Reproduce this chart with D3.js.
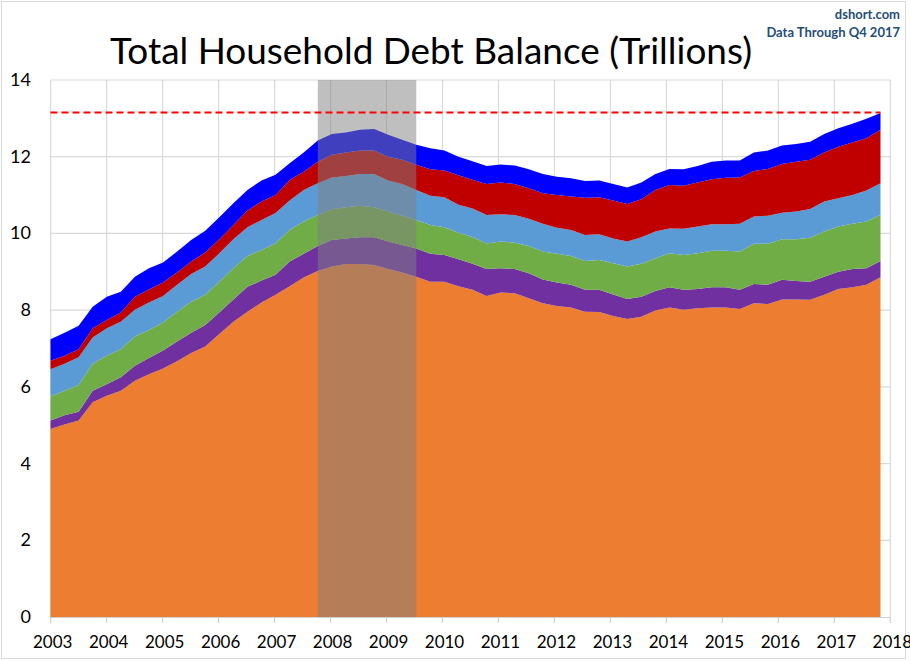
<!DOCTYPE html>
<html lang="en">
<head>
  <meta charset="UTF-8">
  <title>Total Household Debt Balance (Trillions)</title>
  <script src="https://d3js.org/d3.v7.min.js"></script>
  <style>
    body { margin: 0; background: #fff; }
    text { font-family: Lato, "Open Sans", sans-serif; }
  </style>
</head>
<body>
  <svg id="chart" width="910" height="661"></svg>

  <script>
    // quarterly categories, 2003 Q1 .. 2017 Q4
    const quarters = d3.range(2003, 2018).flatMap(y => [1, 2, 3, 4].map(q => y + " Q" + q));
    const years = d3.range(2003, 2019);
    const yTicks = [0, 2, 4, 6, 8, 10, 12, 14];

    // series values, trillions of dollars
    const mortgage = [4.90, 5.02, 5.12, 5.60, 5.77, 5.90, 6.16, 6.33, 6.48, 6.67, 6.88, 7.05,
      7.38, 7.70, 7.96, 8.20, 8.40, 8.62, 8.85, 9.02, 9.14, 9.20, 9.20, 9.18,
      9.07, 8.98, 8.87, 8.74, 8.74, 8.62, 8.53, 8.37, 8.46, 8.44, 8.31, 8.18,
      8.11, 8.07, 7.96, 7.95, 7.85, 7.77, 7.83, 7.99, 8.07, 8.01, 8.05, 8.07,
      8.07, 8.03, 8.18, 8.16, 8.28, 8.28, 8.27, 8.40, 8.55, 8.60, 8.66, 8.86];
    const heRevolving = [0.22, 0.24, 0.23, 0.30, 0.30, 0.35, 0.39, 0.42, 0.47, 0.51, 0.53, 0.56,
      0.56, 0.58, 0.65, 0.57, 0.52, 0.65, 0.62, 0.65, 0.69, 0.67, 0.70, 0.72,
      0.72, 0.72, 0.74, 0.73, 0.70, 0.71, 0.68, 0.70, 0.63, 0.63, 0.65, 0.62,
      0.61, 0.59, 0.57, 0.58, 0.56, 0.52, 0.52, 0.51, 0.53, 0.52, 0.50, 0.53,
      0.53, 0.50, 0.50, 0.50, 0.51, 0.48, 0.47, 0.47, 0.45, 0.47, 0.43, 0.42];
    const autoLoan = [0.63, 0.64, 0.70, 0.70, 0.74, 0.73, 0.76, 0.73, 0.73, 0.78, 0.81, 0.79,
      0.80, 0.81, 0.80, 0.80, 0.82, 0.82, 0.84, 0.81, 0.80, 0.81, 0.82, 0.78,
      0.78, 0.76, 0.74, 0.75, 0.72, 0.69, 0.70, 0.67, 0.70, 0.69, 0.71, 0.73,
      0.75, 0.75, 0.75, 0.78, 0.81, 0.85, 0.86, 0.85, 0.88, 0.91, 0.93, 0.95,
      0.95, 1.00, 1.05, 1.07, 1.06, 1.09, 1.15, 1.18, 1.18, 1.18, 1.22, 1.20];
    const creditCard = [0.71, 0.70, 0.72, 0.69, 0.72, 0.72, 0.70, 0.72, 0.69, 0.70, 0.72, 0.74,
      0.74, 0.76, 0.75, 0.78, 0.79, 0.77, 0.82, 0.83, 0.83, 0.82, 0.83, 0.87,
      0.81, 0.83, 0.78, 0.76, 0.78, 0.73, 0.74, 0.74, 0.71, 0.72, 0.71, 0.72,
      0.68, 0.68, 0.68, 0.67, 0.65, 0.65, 0.69, 0.70, 0.65, 0.68, 0.70, 0.69,
      0.69, 0.72, 0.71, 0.73, 0.69, 0.72, 0.75, 0.78, 0.74, 0.75, 0.81, 0.83];
    const studentLoan = [0.22, 0.21, 0.21, 0.24, 0.21, 0.24, 0.34, 0.34, 0.35, 0.32, 0.33, 0.36,
      0.37, 0.37, 0.44, 0.48, 0.47, 0.53, 0.48, 0.56, 0.59, 0.61, 0.61, 0.61,
      0.62, 0.63, 0.66, 0.69, 0.70, 0.77, 0.75, 0.81, 0.83, 0.81, 0.80, 0.80,
      0.85, 0.87, 0.97, 0.96, 0.99, 0.98, 0.99, 1.08, 1.13, 1.12, 1.15, 1.17,
      1.21, 1.21, 1.19, 1.22, 1.27, 1.30, 1.28, 1.28, 1.34, 1.37, 1.36, 1.39];
    const other = [0.56, 0.60, 0.61, 0.56, 0.61, 0.54, 0.52, 0.55, 0.52, 0.55, 0.56, 0.57,
      0.57, 0.57, 0.53, 0.55, 0.53, 0.44, 0.50, 0.55, 0.54, 0.52, 0.54, 0.56,
      0.57, 0.52, 0.52, 0.55, 0.52, 0.48, 0.48, 0.47, 0.47, 0.48, 0.49, 0.50,
      0.48, 0.48, 0.44, 0.44, 0.43, 0.43, 0.44, 0.42, 0.42, 0.43, 0.43, 0.46,
      0.45, 0.44, 0.48, 0.48, 0.48, 0.46, 0.47, 0.48, 0.48, 0.49, 0.51, 0.44];

    const seriesNames = ["Mortgage", "HE Revolving", "Auto Loan", "Credit Card", "Student Loan", "Other"];
    const seriesColors = ["#ED7D31", "#7030A0", "#70AD47", "#5B9BD5", "#C00000", "#0000FF"];
    const latestTotal = 13.15;
    const recession = ["2007 Q4", "2009 Q3"];

    const svg = d3.select("#chart");

    // outer chart frame
    svg.append("rect")
      .attr("x", 1.5).attr("y", 1.5)
      .attr("width", 904).attr("height", 657)
      .attr("fill", "#fff").attr("stroke", "#D9D9D9");

    // build rows for d3.stack
    const rows = quarters.map((q, i) => ({
      q: q, i: i,
      "Mortgage": mortgage[i],
      "HE Revolving": heRevolving[i],
      "Auto Loan": autoLoan[i],
      "Credit Card": creditCard[i],
      "Student Loan": studentLoan[i],
      "Other": other[i]
    }));
    const stacked = d3.stack().keys(seriesNames)(rows);

    // scales
    const y = d3.scaleLinear().domain([0, 14]).range([617, 80]);
    const xYear = d3.scaleLinear().domain([2003, 2018]).range([50.7, 890.3]);
    const x = d3.scaleLinear().domain([0, quarters.length - 1]).range([50.5, 880.5]);

    // gridlines
    const grid = svg.append("g");
    grid.selectAll("line.h")
      .data(yTicks.filter(d => d > 0))
      .enter().append("line")
      .attr("x1", xYear(2003)).attr("x2", xYear(2018))
      .attr("y1", d => y(d)).attr("y2", d => y(d))
      .attr("stroke", "#D9D9D9").attr("stroke-width", 1.2);
    grid.selectAll("line.v")
      .data(years)
      .enter().append("line")
      .attr("x1", d => xYear(d)).attr("x2", d => xYear(d))
      .attr("y1", y(14)).attr("y2", y(0))
      .attr("stroke", "#D9D9D9").attr("stroke-width", 1.2);

    // stacked areas
    const area = d3.area()
      .x(d => x(d.data.i))
      .y0(d => y(d[0]))
      .y1(d => y(d[1]));

    svg.append("g").selectAll("path")
      .data(stacked)
      .enter().append("path")
      .attr("d", area)
      .attr("fill", (d, i) => seriesColors[i]);

    // recession shading
    const r0 = quarters.indexOf(recession[0]);
    const r1 = quarters.indexOf(recession[1]);
    svg.append("rect")
      .attr("x", x(r0)).attr("y", y(14))
      .attr("width", x(r1) - x(r0)).attr("height", y(0) - y(14))
      .attr("fill", "#808080").attr("fill-opacity", 0.5);

    // latest total reference line
    svg.append("line")
      .attr("x1", x(0)).attr("x2", x(quarters.length - 1))
      .attr("y1", y(latestTotal)).attr("y2", y(latestTotal))
      .attr("stroke", "#FF0000").attr("stroke-width", 2)
      .attr("stroke-dasharray", "7,4");

    // x axis
    const xAxis = svg.append("g");
    xAxis.append("line")
      .attr("x1", xYear(2003)).attr("x2", xYear(2018))
      .attr("y1", y(0) + 0.5).attr("y2", y(0) + 0.5)
      .attr("stroke", "#D0D0D0").attr("stroke-width", 1.2);
    xAxis.selectAll("line.tick")
      .data(years)
      .enter().append("line")
      .attr("x1", d => xYear(d)).attr("x2", d => xYear(d))
      .attr("y1", y(0)).attr("y2", y(0) + 6)
      .attr("stroke", "#D0D0D0").attr("stroke-width", 1.2);
    xAxis.selectAll("text")
      .data(years)
      .enter().append("text")
      .attr("x", d => xYear(d) + 2)
      .attr("y", 648)
      .attr("text-anchor", "middle")
      .attr("font-size", 17)
      .attr("fill", "#000")
      .text(d => d);

    // y axis labels
    svg.append("g").selectAll("text")
      .data(yTicks)
      .enter().append("text")
      .attr("x", 31)
      .attr("y", d => y(d) + 6)
      .attr("text-anchor", "end")
      .attr("font-size", 18)
      .attr("fill", "#000")
      .text(d => d);

    // title and notes
    svg.append("text")
      .attr("x", 431).attr("y", 64)
      .attr("text-anchor", "middle")
      .attr("font-size", 37)
      .attr("textLength", 642)
      .attr("lengthAdjust", "spacingAndGlyphs")
      .attr("fill", "#000")
      .text("Total Household Debt Balance (Trillions)");

    svg.append("text")
      .attr("x", 900).attr("y", 19)
      .attr("text-anchor", "end")
      .attr("font-size", 13)
      .attr("font-weight", "bold")
      .attr("fill", "#1F4E79")
      .text("dshort.com");

    svg.append("text")
      .attr("x", 900).attr("y", 37)
      .attr("text-anchor", "end")
      .attr("font-size", 13)
      .attr("font-weight", "bold")
      .attr("fill", "#1F4E79")
      .text("Data Through Q4 2017");
  </script>
</body>
</html>
